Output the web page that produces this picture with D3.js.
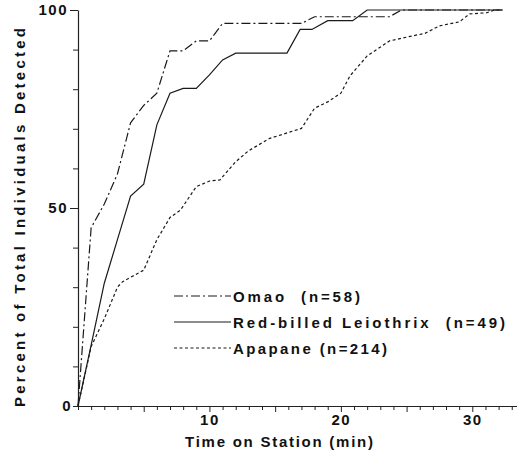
<!DOCTYPE html>
<html>
<head>
<meta charset="utf-8">
<script src="https://cdn.jsdelivr.net/npm/d3@7"></script>
<style>
  html, body { margin: 0; padding: 0; background: #fff; }
  svg { display: block; }
  text { font-family: "Liberation Sans", Arial, sans-serif; font-weight: bold; fill: #111; }
</style>
</head>
<body>
<svg id="chart" width="517" height="452"></svg>
<script>
// Cumulative percent of individuals detected vs. time on station (minutes)
const omaoTime = [0, 1, 2, 3, 4, 5, 6, 7, 8, 9, 10, 11, 17, 18, 23.7, 24.6, 32.3];
const omaoPct  = [0, 45, 51, 58.6, 71.5, 75.9, 79, 89.7, 89.7, 92.2, 92.2, 96.6, 96.6, 98.3, 98.3, 100, 100];

const leioTime = [0, 1, 2, 3, 4, 5, 6, 7, 8, 9, 10, 11, 12, 15.9, 16.9, 17.8, 19, 20.9, 22, 32.3];
const leioPct  = [0, 15.4, 31, 42, 53, 56, 71, 79, 80.2, 80.2, 83.6, 87.4, 89.1, 89.1, 95.1, 95.1, 97.3, 97.3, 100, 100];

const apapTime = [0, 1, 2, 3, 3.4, 5, 6, 7, 7.8, 9, 10, 10.8, 12, 13, 14.6, 17, 18, 19, 20, 20.7, 22, 23.7, 25.5, 26.4, 27.5, 29, 29.8, 31.1, 31.7, 32.3];
const apapPct  = [0, 15, 22, 30, 31.4, 34.3, 42, 47.6, 49.5, 55.4, 56.8, 57.1, 61.7, 64.5, 67.6, 70.1, 75.2, 76.8, 79, 83.4, 88.4, 92.2, 93.5, 94.1, 96, 97, 99, 99.3, 100, 100];

const seriesNames = ["Omao  (n=58)", "Red-billed Leiothrix  (n=49)", "Apapane (n=214)"];
const xTickLabels = [10, 20, 30];
const yTickLabels = [0, 50, 100];
const xTitle = "Time on Station (min)";
const yTitle = "Percent of Total Individuals Detected";

const svg = d3.select("#chart");

const x = d3.scaleLinear().domain([0, 33.4]).range([78, 517]);
const y = d3.scaleLinear().domain([0, 100]).range([406, 10]);

const series = [
  { name: seriesNames[0], t: omaoTime, p: omaoPct, dash: "9,3,2,3" },
  { name: seriesNames[1], t: leioTime, p: leioPct, dash: null },
  { name: seriesNames[2], t: apapTime, p: apapPct, dash: "3,2.5" }
];

// Y axis: ticks every 10 %, labels at 0 / 50 / 100
const yAxis = d3.axisLeft(y)
  .tickValues(d3.range(0, 101, 10))
  .tickSize(5)
  .tickSizeOuter(0)
  .tickPadding(3)
  .tickFormat(d => yTickLabels.includes(d) ? d : "");
const gy = svg.append("g").attr("transform", `translate(${x(0)},0)`).call(yAxis);
gy.selectAll(".tick line").attr("x2", d => (d === 100 || d === 50) ? -8 : -5);
gy.selectAll(".tick text")
  .attr("x", d => d === 0 ? -6 : -10)
  .style("font-size", "15px")
  .style("letter-spacing", "1.5px");

// X axis: minute ticks, labels every 10 min
const xAxis = d3.axisBottom(x)
  .tickValues(d3.range(0, 34, 1))
  .tickSize(4)
  .tickSizeOuter(0)
  .tickPadding(4)
  .tickFormat(d => xTickLabels.includes(d) ? d : "");
const gx = svg.append("g").attr("transform", `translate(0,${y(0)})`).call(xAxis);
gx.selectAll(".tick line").attr("y2", d => d % 5 === 0 && d > 0 ? 6 : 4);
gx.selectAll(".tick text")
  .style("font-size", "15px")
  .style("letter-spacing", "1.5px");

svg.selectAll(".domain").attr("stroke", "#222").attr("stroke-width", 1.2);
svg.selectAll(".tick line").attr("stroke", "#222").attr("stroke-width", 1);

// Curves
const line = d3.line().x(d => x(d[0])).y(d => y(d[1]));
series.forEach(s => {
  svg.append("path")
    .datum(d3.zip(s.t, s.p))
    .attr("d", line)
    .attr("fill", "none")
    .attr("stroke", "#1a1a1a")
    .attr("stroke-width", 1.2)
    .attr("stroke-dasharray", s.dash);
});

// Legend
const legendY = [296, 322, 348];
const legendW = [127, 272, 154];
series.forEach((s, i) => {
  svg.append("line")
    .attr("x1", 174).attr("x2", 231)
    .attr("y1", legendY[i]).attr("y2", legendY[i])
    .attr("stroke", "#1a1a1a")
    .attr("stroke-width", 1.2)
    .attr("stroke-dasharray", s.dash);
  svg.append("text")
    .attr("x", 233).attr("y", legendY[i] + 5.5)
    .attr("textLength", legendW[i])
    .attr("lengthAdjust", "spacing")
    .style("font-size", "15px")
    .style("white-space", "pre")
    .text(s.name);
});

// Axis titles
svg.append("text")
  .attr("x", 185).attr("y", 447)
  .attr("textLength", 188)
  .attr("lengthAdjust", "spacing")
  .style("font-size", "15px")
  .text(xTitle);

svg.append("text")
  .attr("transform", "translate(25,407) rotate(-90)")
  .attr("x", 0).attr("y", 0)
  .attr("textLength", 379)
  .attr("lengthAdjust", "spacing")
  .style("font-size", "15px")
  .text(yTitle);
</script>
</body>
</html>
